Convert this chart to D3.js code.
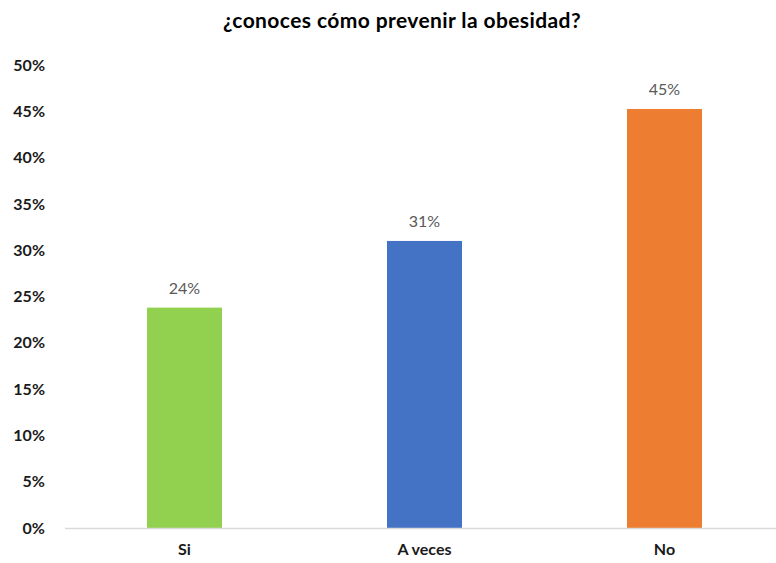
<!DOCTYPE html>
<html lang="es">
<head>
    <meta charset="UTF-8">
    <title>¿conoces cómo prevenir la obesidad?</title>
    <script src="https://d3js.org/d3.v7.min.js"></script>
    <style>
        body { margin: 0; background: #fff; }
        svg text { font-family: Lato, "Open Sans", sans-serif; }
        .title { font-size: 21px; font-weight: bold; fill: #000; letter-spacing: 0.4px; }
        .axis-y text { font-size: 16px; font-weight: bold; fill: #1a1a1a; }
        .axis-x text { font-size: 16px; font-weight: bold; fill: #1a1a1a; }
        .value-label { font-size: 16px; fill: #595959; }
    </style>
</head>
<body>
    <svg width="776" height="563"></svg>

    <script>
        // Data
        const categories = ["Si", "A veces", "No"];
        const values = [23.8, 31.0, 45.25];
        const labels = ["24%", "31%", "45%"];
        const colors = ["#92D050", "#4472C4", "#ED7D31"];
        const yTicks = [0, 5, 10, 15, 20, 25, 30, 35, 40, 45, 50];

        const svg = d3.select("svg");

        // Scales
        const x = d3.scaleBand()
            .domain(categories)
            .range([64.5, 784.5])
            .paddingInner(0.6875)
            .paddingOuter(0.34375);

        const y = d3.scaleLinear()
            .domain([0, 50])
            .range([528, 65]);

        // Title
        svg.append("text")
            .attr("class", "title")
            .attr("x", 402)
            .attr("y", 28)
            .attr("text-anchor", "middle")
            .text("¿conoces cómo prevenir la obesidad?");

        // Y axis (labels only)
        const yAxis = svg.append("g")
            .attr("class", "axis-y")
            .attr("transform", "translate(64,0)")
            .call(d3.axisLeft(y).tickValues(yTicks).tickFormat(d => d + "%").tickSize(0).tickPadding(19));
        yAxis.select(".domain").remove();

        // Bars
        svg.selectAll(".bar")
            .data(values)
            .enter().append("rect")
            .attr("class", "bar")
            .attr("x", (d, i) => x(categories[i]))
            .attr("width", x.bandwidth())
            .attr("y", d => y(d))
            .attr("height", d => y(0) - y(d))
            .attr("fill", (d, i) => colors[i]);

        // X axis
        const xAxis = svg.append("g")
            .attr("class", "axis-x")
            .attr("transform", "translate(0," + y(0) + ")")
            .call(d3.axisBottom(x).tickSize(0).tickPadding(16));
        xAxis.select(".domain")
            .attr("stroke", "#d9d9d9")
            .attr("stroke-width", 1.5);

        // Value labels
        svg.selectAll(".value-label")
            .data(values)
            .enter().append("text")
            .attr("class", "value-label")
            .attr("x", (d, i) => x(categories[i]) + x.bandwidth() / 2)
            .attr("y", d => y(d) - 14)
            .attr("text-anchor", "middle")
            .text((d, i) => labels[i]);
    </script>
</body>
</html>
